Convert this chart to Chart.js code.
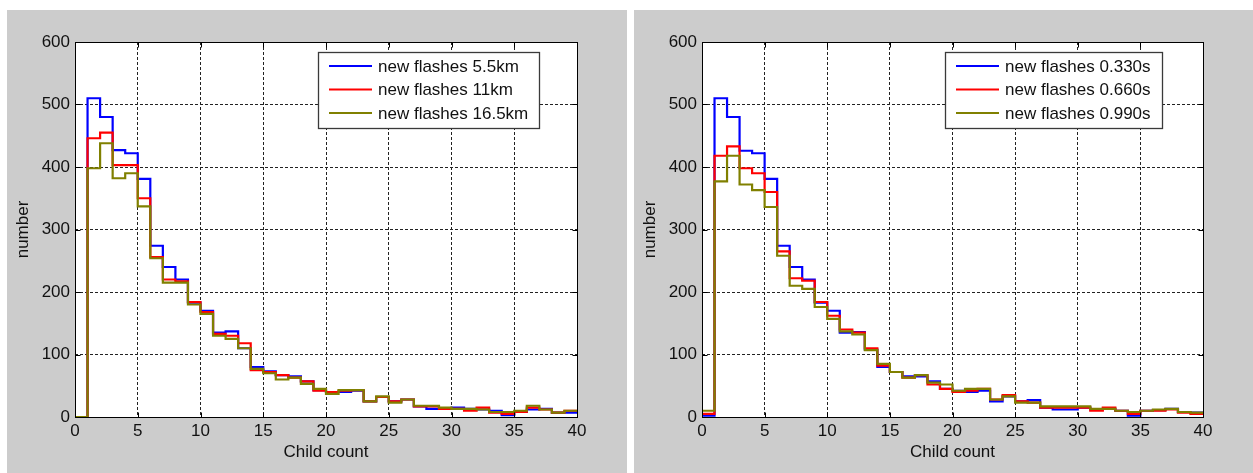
<!DOCTYPE html>
<html>
<head>
<meta charset="utf-8">
<script src="https://cdn.jsdelivr.net/npm/chart.js@4/dist/chart.umd.min.js"></script>
<style>
  html, body { margin: 0; padding: 0; background: #fff; }
  body { width: 1253px; height: 473px; position: relative; overflow: hidden; }
  .panel { position: absolute; top: 10px; height: 463px; background: #cccccc; }
  #panelLeft { left: 7px; width: 620px; }
  #panelRight { left: 634px; width: 619px; }
  canvas { display: block; }
</style>
</head>
<body>
<div class="panel" id="panelLeft"><canvas id="chartLeft" width="620" height="463"></canvas></div>
<div class="panel" id="panelRight"><canvas id="chartRight" width="619" height="463"></canvas></div>
<script>
// histogram bins (left edge of each unit-wide bin)
const binStart = [0, 1, 2, 3, 4, 5, 6, 7, 8, 9, 10, 11, 12, 13, 14, 15, 16, 17, 18, 19,
                  20, 21, 22, 23, 24, 25, 26, 27, 28, 29, 30, 31, 32, 33, 34, 35, 36, 37, 38, 39];
const binEnd = 40;

const xTicks = [0, 5, 10, 15, 20, 25, 30, 35, 40];
const yTicks = [0, 100, 200, 300, 400, 500, 600];

// left panel: distance thresholds
const distLabels = ["new flashes 5.5km", "new flashes 11km", "new flashes 16.5km"];
const dist55 = [0, 510, 480, 427, 422, 381, 274, 240, 220, 183, 170, 135, 137, 110, 80, 73, 67, 65, 57, 43,
                40, 40, 42, 25, 32, 25, 28, 17, 13, 13, 15, 13, 12, 10, 3, 8, 12, 13, 7, 7];
const dist11 = [0, 446, 455, 403, 403, 350, 256, 220, 217, 184, 168, 133, 130, 118, 75, 72, 67, 63, 57, 42,
                40, 42, 43, 25, 32, 25, 28, 17, 17, 13, 13, 10, 15, 7, 5, 8, 15, 12, 7, 10];
const dist165 = [0, 398, 438, 382, 390, 337, 254, 215, 215, 180, 165, 130, 125, 110, 77, 70, 60, 63, 53, 45,
                 37, 43, 43, 25, 33, 23, 28, 18, 18, 15, 13, 13, 12, 8, 8, 10, 18, 12, 7, 10];

// right panel: time thresholds
const timeLabels = ["new flashes 0.330s", "new flashes 0.660s", "new flashes 0.990s"];
const time330 = [2, 510, 480, 426, 422, 381, 274, 240, 220, 183, 170, 135, 136, 108, 80, 72, 65, 65, 57, 45,
                 42, 40, 42, 25, 33, 25, 27, 15, 12, 12, 15, 12, 13, 10, 2, 10, 11, 13, 8, 7];
const time660 = [5, 418, 433, 398, 390, 360, 265, 222, 218, 184, 162, 140, 135, 110, 82, 72, 63, 67, 52, 45,
                 40, 42, 45, 28, 35, 25, 23, 15, 15, 15, 15, 10, 15, 10, 5, 10, 10, 12, 7, 5];
const time990 = [10, 377, 418, 372, 363, 336, 258, 210, 205, 176, 157, 137, 132, 107, 85, 72, 63, 67, 55, 52,
                 42, 45, 45, 28, 33, 23, 23, 17, 17, 17, 17, 13, 13, 10, 8, 10, 12, 13, 8, 7];

const seriesColors = ["#0000ff", "#ff0000", "#808000"];
const FONT = '"Liberation Sans", Arial, Helvetica, sans-serif';

function stairs(values) {
    const pts = binStart.map((x, i) => ({ x: x, y: values[i] }));
    pts.push({ x: binEnd, y: values[values.length - 1] });
    return pts;
}

// white axes background, black frame with inward ticks, and the boxed legend
const axesBox = {
    id: "axesBox",
    beforeDraw(chart) {
        const { ctx, chartArea: a } = chart;
        ctx.save();
        ctx.fillStyle = "#ffffff";
        ctx.fillRect(a.left, a.top, a.right - a.left, a.bottom - a.top);
        ctx.restore();
    },
    afterDraw(chart) {
        const { ctx, chartArea: a, scales } = chart;
        const L = Math.round(a.left) + 0.5, R = Math.round(a.right) + 0.5;
        const T = Math.round(a.top) + 0.5, B = Math.round(a.bottom) + 0.5;
        ctx.save();
        ctx.strokeStyle = "#000";
        ctx.lineWidth = 1;
        ctx.strokeRect(L, T, R - L, B - T);

        // short solid tick marks pointing into the axes on all four sides
        ctx.beginPath();
        scales.x.ticks.forEach((t) => {
            const px = Math.round(scales.x.getPixelForValue(t.value)) + 0.5;
            ctx.moveTo(px, B); ctx.lineTo(px, B - 5);
            ctx.moveTo(px, T); ctx.lineTo(px, T + 5);
        });
        scales.y.ticks.forEach((t) => {
            const py = Math.round(scales.y.getPixelForValue(t.value)) + 0.5;
            ctx.moveTo(L, py); ctx.lineTo(L + 5, py);
            ctx.moveTo(R, py); ctx.lineTo(R - 5, py);
        });
        ctx.stroke();

        const sets = chart.data.datasets;
        ctx.font = "17px " + FONT;
        const textW = Math.max(...sets.map((d) => ctx.measureText(d.label).width));
        const w = Math.round(11 + 43 + 6 + textW + 11);
        const h = 76;
        const x = Math.round(a.left + 243);
        const y = Math.round(a.top + 10);
        ctx.fillStyle = "#fff";
        ctx.fillRect(x, y, w, h);
        ctx.strokeStyle = "#3a3a3a";
        ctx.lineWidth = 1.3;
        ctx.strokeRect(x + 0.5, y + 0.5, w, h);
        ctx.textBaseline = "middle";
        ctx.textAlign = "left";
        sets.forEach((d, i) => {
            const ry = y + 14 + i * 23.5;
            ctx.strokeStyle = d.borderColor;
            ctx.lineWidth = 2;
            ctx.beginPath();
            ctx.moveTo(x + 11, ry);
            ctx.lineTo(x + 54, ry);
            ctx.stroke();
            ctx.fillStyle = "#111";
            ctx.fillText(d.label, x + 60, ry + 1);
        });
        ctx.restore();
    }
};

function makeChart(canvasId, labels, series) {
    const datasets = series.map((values, i) => ({
        label: labels[i],
        data: stairs(values),
        borderColor: seriesColors[i],
        borderWidth: 2.2,
        stepped: "before",
        pointRadius: 0,
        fill: false,
        clip: 3,
        order: series.length - i
    }));

    return new Chart(document.getElementById(canvasId), {
        type: "line",
        data: { datasets: datasets },
        plugins: [axesBox],
        options: {
            responsive: false,
            animation: false,
            events: [],
            layout: { padding: { top: 32, right: 50, left: 0, bottom: 0 } },
            plugins: { legend: { display: false }, tooltip: { enabled: false } },
            scales: {
                x: {
                    type: "linear",
                    min: 0,
                    max: 40,
                    afterBuildTicks: (scale) => { scale.ticks = xTicks.map((v) => ({ value: v })); },
                    afterFit: (scale) => { scale.height = 56; },
                    ticks: { color: "#111", font: { family: FONT, size: 17 }, padding: 4, maxRotation: 0 },
                    grid: { color: "#222", lineWidth: 1, drawTicks: false, tickLength: 0 },
                    border: { display: false, dash: [3, 2] },
                    title: { display: true, text: "Child count", color: "#111",
                             font: { family: FONT, size: 17 }, padding: { top: 0, bottom: 10 } }
                },
                y: {
                    type: "linear",
                    min: 0,
                    max: 600,
                    afterBuildTicks: (scale) => { scale.ticks = yTicks.map((v) => ({ value: v })); },
                    afterFit: (scale) => { scale.width = 68; },
                    ticks: { color: "#111", font: { family: FONT, size: 17 }, padding: 5 },
                    grid: { color: "#222", lineWidth: 1, drawTicks: false, tickLength: 0 },
                    border: { display: false, dash: [3, 2] },
                    title: { display: true, text: "number", color: "#111",
                             font: { family: FONT, size: 17 }, padding: { top: 6, bottom: 0 } }
                }
            }
        }
    });
}

makeChart("chartLeft", distLabels, [dist55, dist11, dist165]);
makeChart("chartRight", timeLabels, [time330, time660, time990]);
</script>
</body>
</html>
